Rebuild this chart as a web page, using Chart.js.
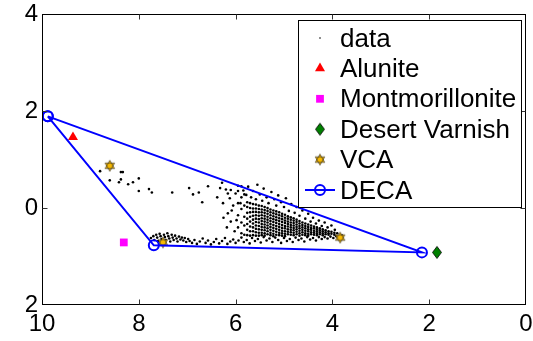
<!DOCTYPE html>
<html>
<head>
<meta charset="utf-8">
<script src="https://cdn.jsdelivr.net/npm/chart.js@4.4.1/dist/chart.umd.min.js"></script>
<style>
  html, body { margin: 0; padding: 0; background: #fff; }
  #wrap { width: 533px; height: 341px; position: relative; }
</style>
</head>
<body>
<div id="wrap"><canvas id="chart"></canvas></div>
<script>
// ---- data ----
const xTicks = [0, 2, 4, 6, 8, 10];
const yTicks = [-2, 0, 2, 4];

// dense part of the cloud, one column of y values per x
const cloudColX = [5.95, 5.88, 5.82, 5.76, 5.70, 5.64, 5.58, 5.52, 5.46, 5.40, 5.34, 5.28, 5.22, 5.16, 5.10, 5.04, 4.98, 4.92,
  4.86, 4.80, 4.74, 4.68, 4.62, 4.56, 4.50, 4.44, 4.38, 4.32, 4.26, 4.20, 4.14, 4.08, 4.02, 3.96, 3.90];
const cloudColY = [
  [0.35, 0.10, -0.15, -0.40],
  [0.45, 0.22, -0.02, -0.30, -0.52],
  [0.28, 0.05, -0.18, -0.36, -0.55],
  [0.12, 0.02, -0.10, -0.22, -0.33, -0.45, -0.56],
  [0.10, 0.00, -0.09, -0.18, -0.28, -0.38, -0.48, -0.57],
  [0.08, -0.01, -0.08, -0.16, -0.24, -0.32, -0.40, -0.48, -0.56],
  [0.07, -0.01, -0.08, -0.15, -0.22, -0.29, -0.36, -0.43, -0.50, -0.57],
  [0.05, -0.02, -0.09, -0.16, -0.23, -0.30, -0.37, -0.44, -0.51, -0.57],
  [0.04, -0.03, -0.09, -0.15, -0.21, -0.27, -0.33, -0.39, -0.45, -0.51, -0.56],
  [0.02, -0.04, -0.10, -0.16, -0.22, -0.28, -0.34, -0.40, -0.46, -0.52, -0.57],
  [0.00, -0.06, -0.12, -0.18, -0.24, -0.30, -0.36, -0.42, -0.48, -0.54],
  [-0.03, -0.09, -0.15, -0.21, -0.27, -0.33, -0.39, -0.45, -0.51, -0.56],
  [-0.05, -0.11, -0.17, -0.23, -0.29, -0.35, -0.41, -0.47, -0.53, -0.58],
  [-0.07, -0.13, -0.19, -0.25, -0.31, -0.37, -0.43, -0.49, -0.55],
  [-0.09, -0.15, -0.21, -0.27, -0.33, -0.39, -0.45, -0.51, -0.56],
  [-0.12, -0.17, -0.23, -0.29, -0.35, -0.41, -0.47, -0.52, -0.57],
  [-0.14, -0.20, -0.26, -0.31, -0.37, -0.42, -0.48, -0.53, -0.58],
  [-0.17, -0.22, -0.28, -0.33, -0.38, -0.44, -0.49, -0.54],
  [-0.19, -0.24, -0.30, -0.35, -0.40, -0.45, -0.50, -0.55],
  [-0.21, -0.26, -0.31, -0.36, -0.41, -0.46, -0.51, -0.56],
  [-0.24, -0.29, -0.34, -0.39, -0.44, -0.49, -0.54],
  [-0.27, -0.32, -0.37, -0.42, -0.47, -0.52, -0.57],
  [-0.30, -0.35, -0.40, -0.45, -0.50, -0.55],
  [-0.32, -0.37, -0.42, -0.47, -0.52, -0.56],
  [-0.34, -0.39, -0.44, -0.48, -0.53, -0.57],
  [-0.36, -0.41, -0.45, -0.50, -0.54],
  [-0.38, -0.42, -0.47, -0.51, -0.55],
  [-0.40, -0.44, -0.48, -0.52, -0.56],
  [-0.42, -0.46, -0.50, -0.54],
  [-0.44, -0.48, -0.52, -0.56],
  [-0.46, -0.50, -0.54],
  [-0.48, -0.52, -0.55],
  [-0.49, -0.53],
  [-0.51, -0.55],
  [-0.52]
];

// sparse points: far left and the fringe above the dense part
const cloudSparse = [
  [8.80, 0.76], [8.60, 0.57], [8.37, 0.74], [8.33, 0.74], [8.41, 0.53], [8.37, 0.59], [8.22, 0.49], [8.12, 0.53],
  [8.00, 0.61], [8.00, 0.35], [7.79, 0.39], [7.73, 0.32], [7.31, 0.32], [6.96, 0.41], [6.88, 0.28], [6.76, 0.32],
  [6.69, 0.12], [6.57, 0.45], [6.32, 0.41], [6.38, 0.22], [6.26, 0.10], [6.16, 0.30], [6.10, 0.37], [6.16, -0.11],
  [6.28, 0.52], [6.20, 0.38], [6.12, 0.20], [6.05, 0.05], [6.00, 0.30], [5.95, 0.46], [5.90, 0.10], [5.84, 0.36],
  [5.78, 0.27], [5.74, 0.44], [5.68, 0.22], [5.64, 0.35], [5.58, 0.18], [5.55, 0.48], [5.50, 0.28], [5.45, 0.15],
  [5.42, 0.40], [5.36, 0.22], [5.32, 0.10], [5.26, 0.33], [5.20, 0.18], [5.16, 0.05], [5.12, 0.26], [5.06, 0.12],
  [5.00, 0.02], [4.96, 0.20], [4.90, -0.06], [4.85, 0.08], [4.78, -0.10], [4.74, 0.02], [4.68, -0.16], [4.62, -0.05],
  [4.56, -0.22], [4.50, -0.12], [4.45, -0.28], [4.40, -0.20], [4.34, -0.32], [4.28, -0.26], [4.22, -0.37], [4.16, -0.30],
  [4.10, -0.40], [4.02, -0.36], [3.95, -0.45],
  [6.25, -0.20], [6.18, -0.40], [6.10, -0.28], [6.02, -0.48], [6.08, -0.05], [5.98, -0.25]
];

// band along the bottom of the cloud
const cloudBand = [
  [7.75, -0.62], [7.70, -0.58], [7.68, -0.66], [7.64, -0.55], [7.62, -0.61], [7.60, -0.68], [7.57, -0.53], [7.55, -0.58],
  [7.53, -0.64], [7.50, -0.70], [7.48, -0.55], [7.46, -0.60], [7.44, -0.66], [7.41, -0.52], [7.39, -0.58], [7.37, -0.63],
  [7.35, -0.69], [7.32, -0.55], [7.30, -0.61], [7.28, -0.66], [7.25, -0.57], [7.22, -0.63], [7.20, -0.69], [7.17, -0.59],
  [7.14, -0.65], [7.11, -0.61], [7.08, -0.67], [7.05, -0.62], [7.02, -0.70], [6.98, -0.64], [6.95, -0.68],
  [6.90, -0.72], [6.85, -0.66], [6.80, -0.74], [6.74, -0.69], [6.68, -0.63], [6.62, -0.72], [6.57, -0.67], [6.51, -0.75],
  [6.45, -0.70], [6.40, -0.64], [6.34, -0.73], [6.28, -0.68], [6.22, -0.62], [6.17, -0.74], [6.11, -0.69], [6.05, -0.65],
  [6.00, -0.72], [5.94, -0.67], [5.88, -0.61], [5.83, -0.70], [5.77, -0.66], [5.71, -0.73], [5.66, -0.62], [5.60, -0.68],
  [5.54, -0.64], [5.48, -0.71], [5.42, -0.60], [5.36, -0.67], [5.30, -0.63], [5.24, -0.70], [5.18, -0.61], [5.12, -0.66],
  [5.06, -0.72], [5.00, -0.62], [4.94, -0.68], [4.88, -0.64], [4.82, -0.70], [4.76, -0.61], [4.70, -0.66], [4.64, -0.63],
  [4.58, -0.69], [4.52, -0.60], [4.46, -0.65], [4.40, -0.62], [4.34, -0.67], [4.28, -0.60], [4.22, -0.64], [4.16, -0.60],
  [4.10, -0.63], [4.04, -0.59], [3.98, -0.62], [3.92, -0.58], [3.86, -0.60], [3.80, -0.57]
];

const aluniteX = [9.36], aluniteY = [1.46];
const montX = [8.31], montY = [-0.71];
const varnishX = [1.84], varnishY = [-0.915];
const vcaX = [8.60, 7.50, 3.84], vcaY = [0.87, -0.71, -0.61];
const decaX = [9.88, 7.69, 2.15, 9.88], decaY = [1.89, -0.77, -0.915, 1.89];

const toPoints = (xs, ys) => xs.map((x, i) => ({ x: x, y: ys[i] }));

const cloudPoints = [];
cloudColX.forEach((x, i) => cloudColY[i].forEach(y => cloudPoints.push({ x: x, y: y })));
cloudSparse.concat(cloudBand).forEach(p => cloudPoints.push({ x: p[0], y: p[1] }));

// ---- custom marker images ----
function hexagram(fill) {
  const c = document.createElement('canvas');
  c.width = 14; c.height = 14;
  const g = c.getContext('2d');
  const r = 5.5;
  g.beginPath();
  for (let k = 0; k < 2; k++) {
    for (let j = 0; j < 3; j++) {
      const a = -Math.PI / 2 + k * Math.PI + j * 2 * Math.PI / 3;
      const px = 7 + r * Math.cos(a), py = 7 + r * Math.sin(a);
      if (j === 0) g.moveTo(px, py); else g.lineTo(px, py);
    }
    g.closePath();
  }
  g.fillStyle = fill;
  g.fill('nonzero');
  g.strokeStyle = '#222';
  g.lineWidth = 0.6;
  g.stroke();
  return c;
}

function diamond(fill) {
  const c = document.createElement('canvas');
  c.width = 12; c.height = 15;
  const g = c.getContext('2d');
  g.beginPath();
  g.moveTo(6, 1.5); g.lineTo(10.5, 7.5); g.lineTo(6, 13.5); g.lineTo(1.5, 7.5);
  g.closePath();
  g.fillStyle = fill;
  g.fill();
  g.strokeStyle = '#000';
  g.lineWidth = 0.8;
  g.stroke();
  return c;
}

const FONT = "'Liberation Sans', Arial, Helvetica, sans-serif";

// frame with inward ticks on all four sides (matlab style)
const boxFrame = {
  id: 'boxFrame',
  afterDatasetsDraw(chart) {
    const { ctx, chartArea: a, scales } = chart;
    ctx.save();
    ctx.strokeStyle = '#000';
    ctx.lineWidth = 1;
    const L = Math.round(a.left) + 0.5, R = Math.round(a.right) - 0.5;
    const T = Math.round(a.top) + 0.5, B = Math.round(a.bottom) - 0.5;
    ctx.strokeRect(L, T, R - L, B - T);
    ctx.strokeStyle = '#333';
    ctx.beginPath();
    scales.x.ticks.forEach(t => {
      const px = Math.round(scales.x.getPixelForValue(t.value)) + 0.5;
      if (px < L + 2 || px > R - 2) return;
      ctx.moveTo(px, B); ctx.lineTo(px, B - 5);
      ctx.moveTo(px, T); ctx.lineTo(px, T + 5);
    });
    scales.y.ticks.forEach(t => {
      const py = Math.round(scales.y.getPixelForValue(t.value)) + 0.5;
      if (py < T + 2 || py > B - 2) return;
      ctx.moveTo(L, py); ctx.lineTo(L + 5, py);
      ctx.moveTo(R, py); ctx.lineTo(R - 5, py);
    });
    ctx.stroke();
    ctx.restore();
  }
};

// legend box drawn inside the plot, upper right
const boxLegend = {
  id: 'boxLegend',
  afterDraw(chart) {
    const ctx = chart.ctx;
    const bx = 298, by = 20, bw = 223, bh = 187;
    ctx.save();
    ctx.fillStyle = '#fff';
    ctx.fillRect(bx, by, bw, bh);
    ctx.strokeStyle = '#000';
    ctx.lineWidth = 1;
    ctx.strokeRect(bx + 0.5, by + 0.5, bw, bh);
    chart.data.datasets.forEach((ds, i) => {
      const cy = 38 + 30.4 * i;
      const sx = 320;
      if (ds.showLine) {
        ctx.strokeStyle = ds.borderColor;
        ctx.lineWidth = ds.borderWidth;
        ctx.beginPath();
        ctx.moveTo(305, cy); ctx.lineTo(335, cy);
        ctx.stroke();
      }
      if (ds.pointStyle instanceof HTMLCanvasElement) {
        ctx.drawImage(ds.pointStyle, sx - ds.pointStyle.width / 2, cy - ds.pointStyle.height / 2);
      } else {
        ctx.fillStyle = ds.pointBackgroundColor;
        ctx.strokeStyle = ds.pointBorderColor;
        ctx.lineWidth = ds.pointBorderWidth;
        Chart.helpers.drawPoint(ctx, {
          pointStyle: ds.pointStyle, radius: ds.legendRadius || ds.pointRadius, rotation: 0, borderWidth: ds.pointBorderWidth
        }, sx, cy);
      }
      ctx.fillStyle = '#000';
      ctx.font = '26px ' + FONT;
      ctx.textBaseline = 'alphabetic';
      ctx.textAlign = 'left';
      ctx.fillText(ds.label, 340, cy + 8.5);
    });
    ctx.restore();
  }
};

new Chart(document.getElementById('chart'), {
  type: 'scatter',
  data: {
    datasets: [
      {
        label: 'data',
        data: cloudPoints,
        pointStyle: 'circle',
        pointRadius: 1.3,
        legendRadius: 0.8,
        pointBorderWidth: 0,
        pointBackgroundColor: '#000',
        pointBorderColor: '#000',
        order: 10
      },
      {
        label: 'Alunite',
        data: toPoints(aluniteX, aluniteY),
        pointStyle: 'triangle',
        pointRadius: 5.8,
        pointBorderWidth: 0,
        pointBackgroundColor: '#ff0000',
        pointBorderColor: '#ff0000',
        order: 3
      },
      {
        label: 'Montmorillonite',
        data: toPoints(montX, montY),
        pointStyle: 'rect',
        pointRadius: 5.5,
        pointBorderWidth: 0,
        pointBackgroundColor: '#ff00ff',
        pointBorderColor: '#ff00ff',
        order: 3
      },
      {
        label: 'Desert Varnish',
        data: toPoints(varnishX, varnishY),
        pointStyle: diamond('#008000'),
        pointRadius: 6,
        order: 3
      },
      {
        label: 'VCA',
        data: toPoints(vcaX, vcaY),
        pointStyle: hexagram('#f7b900'),
        pointRadius: 6,
        order: 2
      },
      {
        label: 'DECA',
        data: toPoints(decaX, decaY),
        showLine: true,
        borderColor: '#0000ff',
        borderWidth: 2,
        pointStyle: 'circle',
        pointRadius: 5,
        pointBorderWidth: 2,
        pointBackgroundColor: 'rgba(0,0,0,0)',
        pointBorderColor: '#0000ff',
        order: 1
      }
    ]
  },
  options: {
    responsive: true,
    maintainAspectRatio: false,
    animation: false,
    events: [],
    layout: { padding: { top: 14, right: 7, left: 0, bottom: 0 } },
    plugins: {
      legend: { display: false },
      tooltip: { enabled: false }
    },
    scales: {
      x: {
        type: 'linear',
        reverse: true,
        min: xTicks[0],
        max: xTicks[xTicks.length - 1],
        afterBuildTicks: scale => { scale.ticks = xTicks.map(v => ({ value: v })); },
        grid: { display: false, drawTicks: false },
        border: { display: false },
        ticks: {
          color: '#000',
          padding: 5,
          maxRotation: 0,
          font: { family: FONT, size: 24 }
        },
        afterFit: scale => {
          scale.height = 36;
          scale.paddingLeft = 0; scale.paddingRight = 0;
        }
      },
      y: {
        type: 'linear',
        min: yTicks[0],
        max: yTicks[yTicks.length - 1],
        afterBuildTicks: scale => { scale.ticks = yTicks.map(v => ({ value: v })); },
        grid: { display: false, drawTicks: false },
        border: { display: false },
        ticks: {
          color: '#000',
          padding: 4,
          font: { family: FONT, size: 24 },
          // the reference prints the bottom tick without its minus sign
          callback: v => String(Math.abs(v))
        },
        afterFit: scale => {
          scale.width = 42;
          scale.paddingTop = 0; scale.paddingBottom = 0;
        }
      }
    }
  },
  plugins: [boxFrame, boxLegend]
});
</script>
</body>
</html>
